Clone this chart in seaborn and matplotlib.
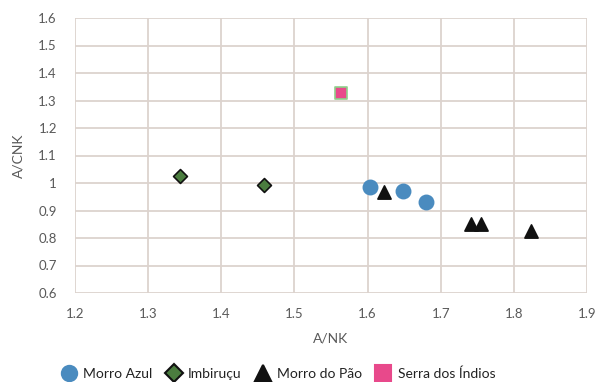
import matplotlib
matplotlib.use("Agg")
import matplotlib.pyplot as plt
import seaborn as sns
import pandas as pd

# Sample values: A/NK vs A/CNK for each locality
morro_azul_x = [1.603, 1.649, 1.680]
morro_azul_y = [0.985, 0.972, 0.930]
imbirucu_x = [1.344, 1.458]
imbirucu_y = [1.025, 0.993]
morro_pao_x = [1.622, 1.742, 1.755, 1.823]
morro_pao_y = [0.966, 0.850, 0.850, 0.827]
serra_x = [1.564]
serra_y = [1.327]

groups = ["Morro Azul", "Imbiruçu", "Morro do Pão", "Serra dos Índios"]
colors = {"Morro Azul": "#4a8bbf", "Imbiruçu": "#4b7d3f",
          "Morro do Pão": "#111111", "Serra dos Índios": "#e8498b"}
markers = {"Morro Azul": "o", "Imbiruçu": "D",
           "Morro do Pão": "^", "Serra dos Índios": "s"}
edges = {"Morro Azul": "#4a8bbf", "Imbiruçu": "#111111",
         "Morro do Pão": "#111111", "Serra dos Índios": "#8fcf8a"}
sizes = {"Morro Azul": 105, "Imbiruçu": 50, "Morro do Pão": 90, "Serra dos Índios": 70}

x_ticks = [1.2, 1.3, 1.4, 1.5, 1.6, 1.7, 1.8, 1.9]
y_ticks = [0.6, 0.7, 0.8, 0.9, 1.0, 1.1, 1.2, 1.3, 1.4, 1.5, 1.6]
y_tick_labels = ["0.6", "0.7", "0.8", "0.9", "1", "1.1", "1.2", "1.3", "1.4", "1.5", "1.6"]

df = pd.concat([
    pd.DataFrame({"A/NK": morro_azul_x, "A/CNK": morro_azul_y, "grupo": "Morro Azul"}),
    pd.DataFrame({"A/NK": imbirucu_x, "A/CNK": imbirucu_y, "grupo": "Imbiruçu"}),
    pd.DataFrame({"A/NK": morro_pao_x, "A/CNK": morro_pao_y, "grupo": "Morro do Pão"}),
    pd.DataFrame({"A/NK": serra_x, "A/CNK": serra_y, "grupo": "Serra dos Índios"}),
], ignore_index=True)

sns.set_style("white")
plt.rcParams["font.family"] = ["Lato", "DejaVu Sans"]

fig = plt.figure(figsize=(6.02, 3.82), dpi=100)
ax = fig.add_axes([75 / 602, 1 - 293 / 382, 512 / 602, 275 / 382])

for g in groups:
    sub = df[df["grupo"] == g]
    sns.scatterplot(data=sub, x="A/NK", y="A/CNK", ax=ax, color=colors[g],
                    marker=markers[g], s=sizes[g], edgecolor=edges[g],
                    linewidth=1.2, label=g, zorder=3, legend=False)

ax.set_xlim(1.2, 1.9)
ax.set_ylim(0.6, 1.6)
ax.set_xticks(x_ticks)
ax.set_xticklabels([f"{v:.1f}" for v in x_ticks])
ax.set_yticks(y_ticks)
ax.set_yticklabels(y_tick_labels)
ax.grid(True, color="#dcd3ce", linewidth=1.3, zorder=0)
ax.set_axisbelow(True)
for sp in ax.spines.values():
    sp.set_visible(False)
ax.tick_params(axis="x", length=0, labelsize=9.5, colors="#595959", pad=11)
ax.tick_params(axis="y", length=0, labelsize=9.5, colors="#595959", pad=13)
ax.set_xlabel("A/NK", fontsize=10, color="#595959", labelpad=9)
ax.set_ylabel("A/CNK", fontsize=10, color="#595959", labelpad=10)

handles = []
for g in groups:
    h = plt.Line2D([], [], linestyle="none", marker=markers[g],
                   markerfacecolor=colors[g],
                   markeredgecolor="#111111" if g == "Imbiruçu" else colors[g],
                   markeredgewidth=1.5,
                   markersize=9.5 if g == "Imbiruçu" else 11, label=g)
    handles.append(h)
fig.legend(handles=handles, loc="center left", bbox_to_anchor=(48 / 602, 1 - 374 / 382),
           ncol=4, frameon=False, fontsize=10, handletextpad=0.45,
           columnspacing=0.9, handlelength=1.2, labelcolor="#222222")

fig.savefig("out.png", dpi=100)
